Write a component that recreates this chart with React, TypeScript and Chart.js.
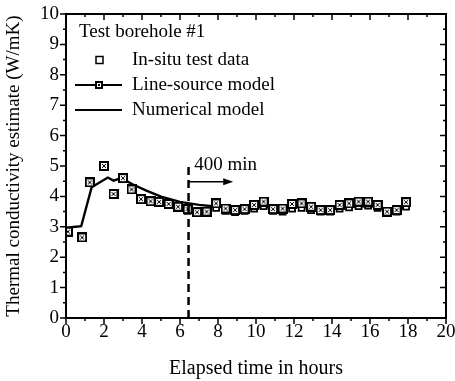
import React, { useEffect, useRef } from "react";
import { Chart, registerables } from "chart.js";

Chart.register(...registerables);

// ---- data ----
const testHours = [0.1, 0.85, 1.25, 2.0, 2.5, 3.0, 3.45, 3.95, 4.45, 4.9, 5.4, 5.9, 6.4, 6.9, 7.4, 7.9, 8.4, 8.9, 9.4, 9.9, 10.4, 10.9, 11.4, 11.9, 12.4, 12.9, 13.4, 13.9, 14.4, 14.9, 15.4, 15.9, 16.4, 16.9, 17.4, 17.9];
const lineSourceValues = [2.84, 2.65, 4.46, 5.0, 4.08, 4.6, 4.23, 3.91, 3.84, 3.82, 3.75, 3.66, 3.58, 3.48, 3.5, 3.77, 3.6, 3.55, 3.58, 3.72, 3.83, 3.58, 3.6, 3.75, 3.77, 3.66, 3.55, 3.55, 3.72, 3.77, 3.83, 3.83, 3.72, 3.5, 3.55, 3.81];
const inSituValues = [2.84, 2.65, 4.46, 5.0, 4.08, 4.6, 4.23, 3.91, 3.84, 3.82, 3.75, 3.66, 3.52, 3.46, 3.47, 3.62, 3.52, 3.48, 3.52, 3.6, 3.68, 3.52, 3.5, 3.6, 3.62, 3.55, 3.5, 3.5, 3.6, 3.64, 3.68, 3.7, 3.62, 3.46, 3.5, 3.66];
const numericalHours = [0, 0.8, 1.35, 2.2, 2.5, 2.9, 3.5, 4.2, 5.0, 6.0, 7.0, 8.0, 9.0, 10.0, 11.0, 12.0, 13.0, 14.0, 15.0, 16.0, 17.0, 18.0];
const numericalValues = [2.97, 3.02, 4.3, 4.62, 4.52, 4.6, 4.4, 4.2, 3.99, 3.82, 3.72, 3.66, 3.62, 3.63, 3.65, 3.66, 3.63, 3.6, 3.65, 3.68, 3.58, 3.62];

const markerHour = 6.45; // "400 min" marker line
const markerTop = 5.1;
const arrowY = 4.48;
const arrowEnd = 8.8;
const markerLabel = "400 min";
const markerLabelPos = { x: 6.75, y: 5.03 };

const legendTitle = "Test borehole #1";
const legendLabels = ["In-situ test data", "Line-source model", "Numerical model"];
const xTitle = "Elapsed time in hours";
const yTitle = "Thermal conductivity estimate (W/mK)";

const FONT = "'Liberation Serif', 'Times New Roman', serif";

function makeCrossMarker(size: number): HTMLCanvasElement {
  const c = document.createElement("canvas");
  c.width = size;
  c.height = size;
  const g = c.getContext("2d")!;
  g.fillStyle = "#000";
  g.fillRect(0, 0, size, size);
  g.fillStyle = "#fff";
  g.fillRect(2, 2, size - 4, size - 4);
  g.fillStyle = "#000";
  const m = Math.floor(size / 2);
  g.fillRect(3, 3, 1, 1);
  g.fillRect(size - 4, 3, 1, 1);
  g.fillRect(3, size - 4, 1, 1);
  g.fillRect(size - 4, size - 4, 1, 1);
  g.fillRect(m - 1, m - 1, 2, 2);
  return c;
}

const decorPlugin = {
  id: "decor",
  afterDraw(chart: any) {
    const { ctx, chartArea, scales } = chart;
    const xs = scales.x;
    const ys = scales.y;
    const { left, right, top, bottom } = chartArea;
    ctx.save();
    ctx.strokeStyle = "#000";
    ctx.fillStyle = "#000";
    // frame
    ctx.lineWidth = 2;
    ctx.strokeRect(left, top, right - left, bottom - top);
    // ticks
    ctx.lineWidth = 1.5;
    ctx.beginPath();
    for (let v = 0; v <= 20; v += 1) {
      const px = xs.getPixelForValue(v);
      const len = v % 2 === 0 ? 6 : 3;
      ctx.moveTo(px, bottom);
      ctx.lineTo(px, bottom + len);
      ctx.moveTo(px, top);
      ctx.lineTo(px, top + len);
    }
    for (let v = 0; v <= 10; v += 0.5) {
      const py = ys.getPixelForValue(v);
      const len = Number.isInteger(v) ? 6 : 3;
      ctx.moveTo(left - len, py);
      ctx.lineTo(left, py);
      ctx.moveTo(right - len, py);
      ctx.lineTo(right, py);
    }
    ctx.stroke();

    // dashed 400 min line
    const mx = xs.getPixelForValue(markerHour);
    ctx.lineWidth = 2.5;
    ctx.setLineDash([8, 5]);
    ctx.beginPath();
    ctx.moveTo(mx, ys.getPixelForValue(0));
    ctx.lineTo(mx, ys.getPixelForValue(markerTop));
    ctx.stroke();
    ctx.setLineDash([]);

    // arrow
    const ay = ys.getPixelForValue(arrowY);
    const ax2 = xs.getPixelForValue(arrowEnd);
    ctx.lineWidth = 1.5;
    ctx.beginPath();
    ctx.moveTo(mx, ay);
    ctx.lineTo(ax2 - 6, ay);
    ctx.stroke();
    ctx.beginPath();
    ctx.moveTo(ax2, ay);
    ctx.lineTo(ax2 - 10, ay - 3.5);
    ctx.lineTo(ax2 - 10, ay + 3.5);
    ctx.closePath();
    ctx.fill();

    // label
    ctx.font = `19px ${FONT}`;
    ctx.textAlign = "left";
    ctx.textBaseline = "middle";
    ctx.fillText(markerLabel, xs.getPixelForValue(markerLabelPos.x), ys.getPixelForValue(markerLabelPos.y));

    // legend
    const lx = left + 13;
    ctx.fillText(legendTitle, lx, top + 18);
    const textX = left + 66;
    const rows = [top + 46, top + 71, top + 96];
    rows.forEach((ry, i) => ctx.fillText(legendLabels[i], textX, ry));
    // in-situ symbol
    ctx.lineWidth = 1.5;
    ctx.strokeRect(left + 30, rows[0] - 3.5, 7, 7);
    // line-source symbol
    ctx.lineWidth = 2;
    ctx.beginPath();
    ctx.moveTo(left + 9, rows[1]);
    ctx.lineTo(left + 56, rows[1]);
    ctx.stroke();
    ctx.fillRect(left + 29, rows[1] - 4, 8, 8);
    ctx.fillStyle = "#fff";
    ctx.fillRect(left + 31, rows[1] - 2, 4, 4);
    ctx.fillStyle = "#000";
    ctx.fillRect(left + 32, rows[1] - 1, 2, 2);
    // numerical symbol
    ctx.beginPath();
    ctx.moveTo(left + 9, rows[2]);
    ctx.lineTo(left + 56, rows[2]);
    ctx.stroke();
    ctx.restore();
  },
};

export default function App() {
  const ref = useRef<HTMLCanvasElement | null>(null);
  useEffect(() => {
    if (!ref.current) return;
    const cross = makeCrossMarker(10);
    const chart = new Chart(ref.current, {
      type: "scatter",
      data: {
        datasets: [
          {
            label: legendLabels[1],
            data: testHours.map((h, i) => ({ x: h, y: lineSourceValues[i] })),
            pointStyle: cross as any,
            pointRadius: 5,
            showLine: false,
            order: 1,
          },
          {
            label: legendLabels[0],
            data: testHours.map((h, i) => ({ x: h, y: inSituValues[i] })),
            pointStyle: "rect",
            pointRadius: 4.2,
            borderColor: "#000",
            backgroundColor: "#fff",
            borderWidth: 1.8,
            showLine: false,
            order: 2,
          },
          {
            label: legendLabels[2],
            data: numericalHours.map((h, i) => ({ x: h, y: numericalValues[i] })),
            showLine: true,
            borderColor: "#000",
            borderWidth: 2.4,
            pointRadius: 0,
            tension: 0,
            order: 3,
          },
        ],
      },
      options: {
        responsive: false,
        animation: false,
        devicePixelRatio: 1,
        layout: { padding: { top: 14, right: 9, left: 0, bottom: 0 } },
        plugins: { legend: { display: false }, tooltip: { enabled: false } },
        scales: {
          x: {
            type: "linear",
            min: 0,
            max: 20,
            grid: { display: false, drawTicks: false },
            border: { display: false },
            ticks: {
              stepSize: 2,
              maxRotation: 0,
              autoSkip: false,
              padding: 3,
              color: "#000",
              font: { family: FONT, size: 19 },
            },
            title: {
              display: true,
              text: xTitle,
              color: "#000",
              font: { family: FONT, size: 20 },
              padding: { top: 0, bottom: 0 },
            },
            afterFit: (s: any) => {
              s.height = 63;
              s.paddingLeft = 0;
              s.paddingRight = 0;
            },
          },
          y: {
            type: "linear",
            min: 0,
            max: 10,
            grid: { display: false, drawTicks: false },
            border: { display: false },
            ticks: {
              stepSize: 1,
              padding: 7,
              color: "#000",
              font: { family: FONT, size: 19 },
            },
            title: {
              display: true,
              text: yTitle,
              color: "#000",
              font: { family: FONT, size: 19 },
              padding: { top: 3, bottom: 0 },
            },
            afterFit: (s: any) => {
              s.width = 66;
              s.paddingTop = 0;
              s.paddingBottom = 0;
            },
          },
        },
      },
      plugins: [decorPlugin],
    });
    return () => chart.destroy();
  }, []);
  return (
    <div style={{ position: "fixed", left: 0, top: 0, width: 455, height: 381, background: "#fff" }}>
      <canvas ref={ref} width={455} height={381} style={{ width: 455, height: 381, display: "block" }} />
    </div>
  );
}
